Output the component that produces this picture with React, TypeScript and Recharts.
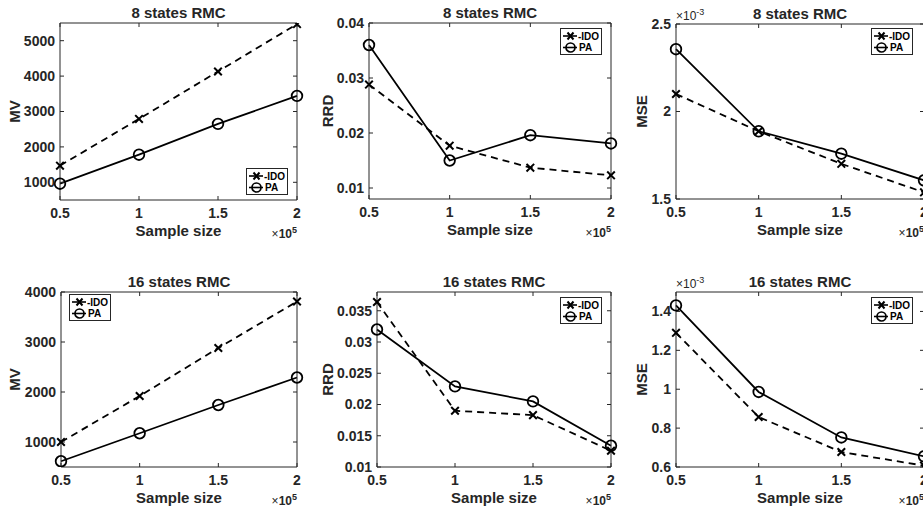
import React from "react";
import { LineChart, Line, XAxis, YAxis, Label, Legend } from "recharts";

// sample sizes on the x axis (shown as x10^5)
const sampleSizes = [50000, 100000, 150000, 200000];
const sampleTicks = [50000, 100000, 150000, 200000];

// 8 states RMC
const mv8Ido = [1470, 2790, 4130, 5470];
const mv8Pa = [960, 1780, 2650, 3440];
const rrd8Ido = [0.0288, 0.0177, 0.0137, 0.0123];
const rrd8Pa = [0.036, 0.015, 0.0196, 0.0181];
const mse8Ido = [0.0021, 0.001887, 0.001701, 0.001538];
const mse8Pa = [0.002356, 0.001887, 0.001759, 0.001607];

// 16 states RMC
const mv16Ido = [1000, 1920, 2880, 3810];
const mv16Pa = [615, 1175, 1740, 2290];
const rrd16Ido = [0.0364, 0.019, 0.0183, 0.0126];
const rrd16Pa = [0.032, 0.0229, 0.0205, 0.0134];
const mse16Ido = [0.00129, 0.000857, 0.000677, 0.000607];
const mse16Pa = [0.001431, 0.000986, 0.000752, 0.000655];

// y tick labels
const mv8Ticks = [1000, 2000, 3000, 4000, 5000];
const mv16Ticks = [1000, 2000, 3000, 4000];
const rrd8Ticks = [0.01, 0.02, 0.03, 0.04];
const rrd16Ticks = [0.01, 0.015, 0.02, 0.025, 0.03, 0.035];
const mse8Ticks = [0.0015, 0.002, 0.0025];
const mse16Ticks = [0.0006, 0.0008, 0.001, 0.0012, 0.0014];

const FONT = "'Liberation Sans', Arial, Helvetica, sans-serif";
const INK = "#262626";

const fmtPlain = (v: number) => String(v);
const fmtMilli = (v: number) => String(Number((v * 1000).toFixed(4)));
const fmtSample = (v: number) => String(v / 1e5);
const blank = () => "";

const CrossDot = (props: any) => {
  const { cx, cy, index } = props;
  const s = 3.8;
  return (
    <path
      key={"x" + index}
      d={`M${cx - s},${cy - s}L${cx + s},${cy + s}M${cx + s},${cy - s}L${cx - s},${cy + s}`}
      stroke="#000"
      strokeWidth={2}
      fill="none"
    />
  );
};

const CircleDot = (props: any) => {
  const { cx, cy, index } = props;
  return <circle key={"o" + index} cx={cx} cy={cy} r={5.3} fill="none" stroke="#000" strokeWidth={1.8} />;
};

const LegendBox = () => (
  <div
    style={{
      width: 42,
      height: 27,
      border: `1px solid ${INK}`,
      background: "#fff",
      boxSizing: "border-box",
    }}
  >
    <svg width={40} height={25} style={{ display: "block" }}>
      <line x1={2} y1={7} x2={16} y2={7} stroke="#000" strokeWidth={1.6} />
      <path d="M6.5,3.5L12.5,10.5M12.5,3.5L6.5,10.5" stroke="#000" strokeWidth={2} />
      <text x={17} y={10.5} fontFamily={FONT} fontWeight="bold" fontSize={10} fill="#000">
        -IDO
      </text>
      <line x1={2} y1={18.5} x2={16} y2={18.5} stroke="#000" strokeWidth={1.6} />
      <circle cx={9.5} cy={18.5} r={4.5} fill="none" stroke="#000" strokeWidth={1.7} />
      <text x={18} y={22} fontFamily={FONT} fontWeight="bold" fontSize={10} fill="#000">
        PA
      </text>
    </svg>
  </div>
);

type PanelProps = {
  x0: number;
  y0: number;
  w: number;
  h: number;
  L: number;
  T: number;
  R: number;
  B: number;
  title: string;
  ylabel: string;
  yLabelX: number;
  ido: number[];
  pa: number[];
  yDomain: [number, number];
  yTicks: number[];
  yFmt: (v: number) => string;
  milli?: boolean;
  legendX: number;
  legendY: number;
};

const Panel = (p: PanelProps) => {
  const rows = sampleSizes.map((n, i) => ({ n, ido: p.ido[i], pa: p.pa[i] }));
  const yAxisW = p.L - p.x0;
  const xAxisH = p.y0 + p.h - p.B;
  // top and right axes are 1px wide so that they are drawn as the box edges
  const margin = { top: p.T - p.y0 - 1, right: p.x0 + p.w - p.R - 1, bottom: 0, left: 0 };

  return (
    <div style={{ position: "absolute", left: p.x0, top: p.y0 }}>
      <LineChart width={p.w} height={p.h} data={rows} margin={margin}>
        <XAxis
          dataKey="n"
          type="number"
          domain={[50000, 200000]}
          ticks={sampleTicks}
          tickFormatter={fmtSample}
          interval={0}
          height={xAxisH}
          tickSize={-4}
          tickMargin={12}
          stroke={INK}
          tick={{ fill: INK, fontSize: 14, fontWeight: "bold", fontFamily: FONT }}
        >
          <Label
            content={({ viewBox }: any) => (
              <g fontFamily={FONT} fill={INK}>
                <text x={viewBox.x + viewBox.width / 2} y={viewBox.y + 35.5} textAnchor="middle" fontSize={15} fontWeight="bold">
                  Sample size
                </text>
                <text x={viewBox.x + viewBox.width} y={viewBox.y + 38} textAnchor="end" fontSize={12}>
                  ×<tspan fontWeight="bold">10</tspan>
                  <tspan fontSize={9} fontWeight="bold" dy={-5}>5</tspan>
                </text>
              </g>
            )}
          />
        </XAxis>
        <XAxis
          xAxisId="top"
          dataKey="n"
          type="number"
          orientation="top"
          domain={[50000, 200000]}
          ticks={sampleTicks}
          tickFormatter={blank}
          interval={0}
          height={1}
          tickSize={-4}
          stroke={INK}
        >
          <Label
            content={({ viewBox }: any) => {
              const yTop = viewBox.y + viewBox.height;
              return (
                <g fontFamily={FONT} fill={INK}>
                  <text x={viewBox.x + viewBox.width / 2} y={yTop - 5.5} textAnchor="middle" fontSize={15} fontWeight="bold">
                    {p.title}
                  </text>
                  {p.milli ? (
                    <text x={viewBox.x} y={yTop - 4} textAnchor="start" fontSize={12}>
                      ×10
                      <tspan fontSize={9} dy={-5}>-3</tspan>
                    </text>
                  ) : null}
                </g>
              );
            }}
          />
        </XAxis>
        <YAxis
          type="number"
          domain={p.yDomain}
          ticks={p.yTicks}
          tickFormatter={p.yFmt}
          interval={0}
          width={yAxisW}
          tickSize={-4}
          tickMargin={9}
          stroke={INK}
          allowDataOverflow
          tick={{ fill: INK, fontSize: 14, fontWeight: "bold", fontFamily: FONT }}
        >
          <Label
            content={({ viewBox }: any) => {
              const cy = viewBox.y + viewBox.height / 2;
              const cx = p.yLabelX;
              return (
                <text
                  x={cx}
                  y={cy}
                  transform={`rotate(-90 ${cx} ${cy})`}
                  textAnchor="middle"
                  fontFamily={FONT}
                  fontSize={15}
                  fontWeight="bold"
                  fill={INK}
                >
                  {p.ylabel}
                </text>
              );
            }}
          />
        </YAxis>
        <YAxis
          yAxisId="right"
          orientation="right"
          type="number"
          domain={p.yDomain}
          ticks={p.yTicks}
          tickFormatter={blank}
          interval={0}
          width={1}
          tickSize={-4}
          stroke={INK}
          allowDataOverflow
        />
        <Line
          type="linear"
          dataKey="ido"
          stroke="#000"
          strokeWidth={1.8}
          strokeDasharray="7 5"
          dot={CrossDot}
          activeDot={false}
          isAnimationActive={false}
        />
        <Line
          type="linear"
          dataKey="pa"
          stroke="#000"
          strokeWidth={1.8}
          dot={CircleDot}
          activeDot={false}
          isAnimationActive={false}
        />
        {/* centred + middle keeps the legend from reserving space in the chart */}
        <Legend
          layout="horizontal"
          verticalAlign="middle"
          align="center"
          content={() => <LegendBox />}
          wrapperStyle={{ left: p.legendX, top: p.legendY, width: 42, height: 27 }}
        />
      </LineChart>
    </div>
  );
};

export default function App() {
  return (
    <div
      style={{
        position: "fixed",
        left: 0,
        top: 0,
        width: 923,
        height: 519,
        overflow: "hidden",
        background: "#fff",
      }}
    >
      <Panel
        x0={0} y0={0} w={310} h={260} L={60} T={23} R={297} B={200}
        title="8 states RMC" ylabel="MV" yLabelX={20}
        ido={mv8Ido} pa={mv8Pa} yDomain={[500, 5500]} yTicks={mv8Ticks} yFmt={fmtPlain}
        legendX={246} legendY={168}
      />
      <Panel
        x0={310} y0={0} w={310} h={260} L={369} T={23} R={611} B={199}
        title="8 states RMC" ylabel="RRD" yLabelX={23}
        ido={rrd8Ido} pa={rrd8Pa} yDomain={[0.008, 0.04]} yTicks={rrd8Ticks} yFmt={fmtPlain}
        legendX={250} legendY={28}
      />
      <Panel
        x0={620} y0={0} w={310} h={260} L={676} T={24} R={924} B={199}
        title="8 states RMC" ylabel="MSE" yLabelX={27}
        ido={mse8Ido} pa={mse8Pa} yDomain={[0.0015, 0.0025]} yTicks={mse8Ticks} yFmt={fmtMilli} milli
        legendX={251} legendY={28}
      />
      <Panel
        x0={0} y0={260} w={310} h={259} L={61} T={292} R={297} B={467}
        title="16 states RMC" ylabel="MV" yLabelX={20}
        ido={mv16Ido} pa={mv16Pa} yDomain={[500, 4000]} yTicks={mv16Ticks} yFmt={fmtPlain}
        legendX={69} legendY={34}
      />
      <Panel
        x0={310} y0={260} w={310} h={259} L={377} T={292} R={611} B={467}
        title="16 states RMC" ylabel="RRD" yLabelX={23}
        ido={rrd16Ido} pa={rrd16Pa} yDomain={[0.01, 0.038]} yTicks={rrd16Ticks} yFmt={fmtPlain}
        legendX={250} legendY={37}
      />
      <Panel
        x0={620} y0={260} w={310} h={259} L={676} T={292} R={924} B={467}
        title="16 states RMC" ylabel="MSE" yLabelX={27}
        ido={mse16Ido} pa={mse16Pa} yDomain={[0.0006, 0.0015]} yTicks={mse16Ticks} yFmt={fmtMilli} milli
        legendX={251} legendY={37}
      />
    </div>
  );
}
